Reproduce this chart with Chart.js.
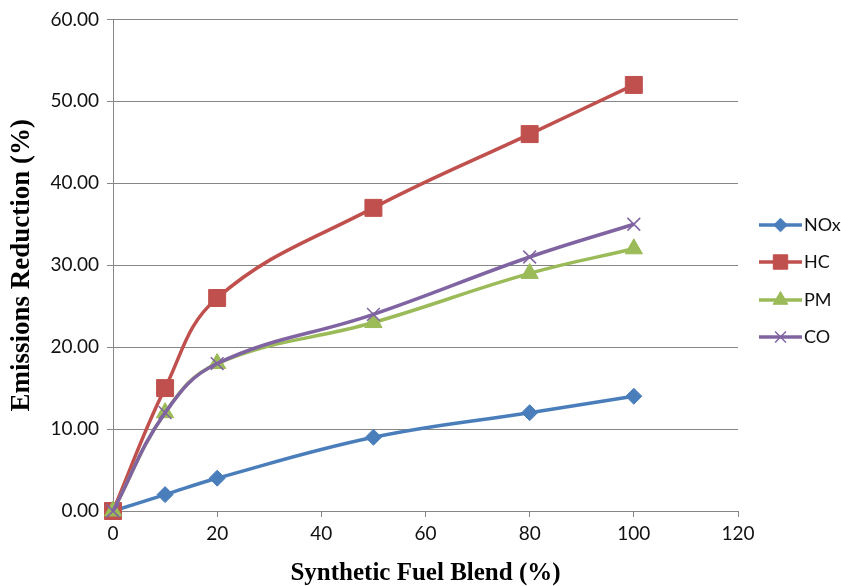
<!DOCTYPE html>
<html>
<head>
<meta charset="utf-8">
<script src="https://cdn.jsdelivr.net/npm/chart.js@4.4.1/dist/chart.umd.min.js"></script>
<style>
  html, body { margin: 0; padding: 0; background: #fff; }
  #wrap { width: 841px; height: 586px; }
</style>
</head>
<body>
<div id="wrap"><canvas id="chart"></canvas></div>
<script>
// synthetic fuel blend (%) and emissions reduction (%)
const blend = [0, 10, 20, 50, 80, 100];
const nox = [0, 2, 4, 9, 12, 14];
const hc = [0, 15, 26, 37, 46, 52];
const pm = [0, 12, 18, 23, 29, 32];
const co = [0, 12, 18, 24, 31, 35];

const xTicks = [0, 20, 40, 60, 80, 100, 120];
const yTicks = [0, 10, 20, 30, 40, 50, 60];

const toPoints = vals => blend.map((b, i) => ({ x: b, y: vals[i] }));

function series(label, vals, color, style, radius, order) {
  return {
    label: label,
    data: toPoints(vals),
    borderColor: color,
    backgroundColor: color,
    borderWidth: 3.5,
    showLine: true,
    tension: 0.4,
    clip: false,
    pointStyle: style,
    pointRadius: radius,
    pointHoverRadius: radius,
    pointBorderWidth: style === 'crossRot' ? 1.5 : 1,
    order: order
  };
}

// legend drawn by hand: line + marker like the spreadsheet legend
const legendPlugin = {
  id: 'sideLegend',
  afterDraw(chart) {
    const ctx = chart.ctx;
    const rows = [225, 262, 300, 337];
    chart.data.datasets.forEach((ds, i) => {
      const y = rows[i];
      ctx.save();
      ctx.strokeStyle = ds.borderColor;
      ctx.lineWidth = 3.5;
      ctx.beginPath();
      ctx.moveTo(759, y);
      ctx.lineTo(802, y);
      ctx.stroke();
      ctx.fillStyle = ds.backgroundColor;
      ctx.strokeStyle = ds.borderColor;
      ctx.lineWidth = ds.pointBorderWidth;
      Chart.helpers.drawPoint(ctx, {
        pointStyle: ds.pointStyle,
        radius: ds.pointRadius * 0.85,
        rotation: 0,
        borderWidth: ds.pointBorderWidth
      }, 780.5, y);
      ctx.fillStyle = '#111';
      ctx.font = '18px Lato';
      ctx.textBaseline = 'middle';
      ctx.fillText(ds.label, 804, y);
      ctx.restore();
    });
  }
};

new Chart(document.getElementById('chart'), {
  type: 'scatter',
  data: {
    datasets: [
      series('NOx', nox, '#4A7EBB', 'rectRot', 8, 4),
      series('HC', hc, '#C0504D', 'rect', 12, 3),
      series('PM', pm, '#9BBB59', 'triangle', 10, 2),
      series('CO', co, '#8064A2', 'crossRot', 9, 1)
    ]
  },
  options: {
    responsive: true,
    maintainAspectRatio: false,
    animation: false,
    layout: { padding: { top: 18, right: 103, left: 0, bottom: 0 } },
    plugins: {
      legend: { display: false },
      tooltip: { enabled: false }
    },
    scales: {
      x: {
        type: 'linear',
        min: 0,
        max: 120,
        afterBuildTicks: scale => { scale.ticks = xTicks.map(v => ({ value: v })); },
        afterFit: scale => { scale.height = 75; },
        ticks: { color: '#111', font: { family: 'Lato', size: 19 }, padding: 5 },
        grid: { drawOnChartArea: false, drawTicks: true, tickLength: 6, color: '#868686' },
        border: { color: '#868686', width: 1 },
        title: {
          display: true,
          text: 'Synthetic Fuel Blend (%)',
          color: '#000',
          font: { family: 'Liberation Serif', size: 25, weight: 'bold', lineHeight: 1 },
          padding: { top: 0, bottom: 0 }
        }
      },
      y: {
        min: 0,
        max: 60,
        afterBuildTicks: scale => { scale.ticks = yTicks.map(v => ({ value: v })); },
        afterFit: scale => { scale.width = 113; },
        ticks: {
          color: '#111',
          font: { family: 'Lato', size: 19 },
          padding: 8,
          callback: v => v.toFixed(2)
        },
        grid: { color: '#868686', tickLength: 6 },
        border: { color: '#868686', width: 1 },
        title: {
          display: true,
          text: 'Emissions Reduction (%)',
          color: '#000',
          font: { family: 'Liberation Serif', size: 27, weight: 'bold', lineHeight: 1 },
          padding: { top: 9, bottom: 0 }
        }
      }
    }
  },
  plugins: [legendPlugin]
});
</script>
</body>
</html>
